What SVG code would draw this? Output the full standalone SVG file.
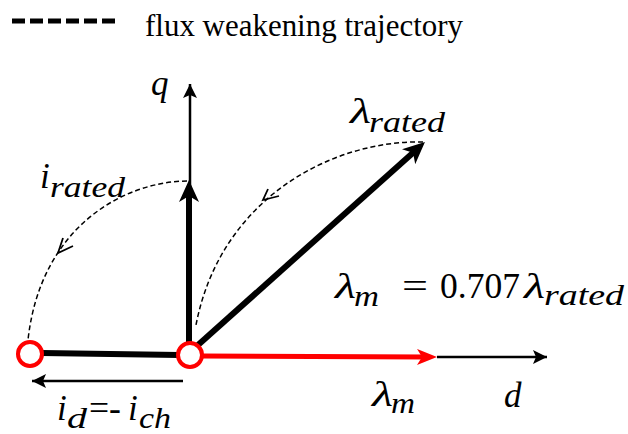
<svg xmlns="http://www.w3.org/2000/svg" width="628" height="434" viewBox="0 0 628 434">
<style>
.dash{fill:none;stroke:#000;stroke-width:1.5;stroke-dasharray:5 3}
.chev{fill:none;stroke:#000;stroke-width:1.8}
.node{fill:#fff;stroke:#f00;stroke-width:4}
</style>
<defs>
<marker id="ah" markerUnits="userSpaceOnUse" viewBox="0 0 14 14" refX="14" refY="7" markerWidth="14" markerHeight="14" orient="auto">
<path d="M0,0 L14,7 L0,14 L3,7 z" fill="#000"/>
</marker>
<marker id="ahT" markerUnits="userSpaceOnUse" viewBox="0 0 22 20" refX="12" refY="10" markerWidth="22" markerHeight="20" orient="auto">
<path d="M0,0 L22,10 L0,20 L6,10 z" fill="#000"/>
</marker>
<marker id="ahR" markerUnits="userSpaceOnUse" viewBox="0 0 20 16" refX="10" refY="8" markerWidth="20" markerHeight="16" orient="auto">
<path d="M0,0 L20,8 L0,16 L5,8 z" fill="#f00"/>
</marker>
</defs>

<g id="legend">
<line x1="12" y1="21" x2="118" y2="21" stroke="#000" stroke-width="5" stroke-dasharray="13 5"/>
<text x="145" y="36" font-family="Liberation Serif" font-size="31" textLength="318" lengthAdjust="spacingAndGlyphs">flux weakening trajectory</text>
</g>

<g id="connectors">
<line x1="190" y1="355" x2="190" y2="84" stroke="#000" stroke-width="2.5" marker-end="url(#ah)"/>
<line x1="437" y1="357" x2="547" y2="357" stroke="#000" stroke-width="2.5" marker-end="url(#ah)"/>
<line x1="183" y1="381" x2="32" y2="381" stroke="#000" stroke-width="2.5" marker-end="url(#ah)"/>
<line x1="189" y1="344" x2="189" y2="190" stroke="#000" stroke-width="6" marker-end="url(#ahT)"/>
<line x1="198" y1="345" x2="417.5" y2="148.7" stroke="#000" stroke-width="6" marker-end="url(#ahT)"/>
<line x1="42" y1="353" x2="179" y2="355" stroke="#000" stroke-width="6"/>
<line x1="202" y1="356" x2="427" y2="357" stroke="#f00" stroke-width="5" marker-end="url(#ahR)"/>
<path class="dash" d="M187,181 C120,182 40,230 28,340"/>
<polyline class="chev" points="63,238 58,253 73,246"/>
<path class="dash" d="M423,142 C330,140 220,200 196,325"/>
<polyline class="chev" points="268,189 263,200 279,196"/>
</g>

<g id="node-left"><circle class="node" cx="30" cy="354" r="12"/></g>
<g id="node-origin"><circle class="node" cx="190" cy="355" r="12"/></g>

<g id="label-q"><text font-family="Liberation Serif" font-style="italic" font-size="35" x="151" y="95">q</text></g>
<g id="label-irated">
<text font-family="Liberation Serif" font-style="italic" font-size="35" x="40" y="188">i</text>
<text font-family="Liberation Serif" font-style="italic" font-size="29" x="50" y="197" textLength="75" lengthAdjust="spacingAndGlyphs">rated</text>
</g>
<g id="label-lrated">
<text font-family="Liberation Serif" font-style="italic" font-size="36" x="350" y="123" textLength="21" lengthAdjust="spacingAndGlyphs">λ</text>
<text font-family="Liberation Serif" font-style="italic" font-size="29" x="369" y="132" textLength="76" lengthAdjust="spacingAndGlyphs">rated</text>
</g>
<g id="label-eq">
<text font-family="Liberation Serif" font-style="italic" font-size="36" x="335" y="298" textLength="21" lengthAdjust="spacingAndGlyphs">λ</text>
<text font-family="Liberation Serif" font-style="italic" font-size="29" x="354" y="306" textLength="25" lengthAdjust="spacingAndGlyphs">m</text>
<text font-family="Liberation Serif" font-size="35" x="402" y="298" textLength="26" lengthAdjust="spacingAndGlyphs">=</text>
<text font-family="Liberation Serif" font-size="35" x="440" y="298" textLength="80" lengthAdjust="spacingAndGlyphs">0.707</text>
<text font-family="Liberation Serif" font-style="italic" font-size="36" x="524" y="298" textLength="21" lengthAdjust="spacingAndGlyphs">λ</text>
<text font-family="Liberation Serif" font-style="italic" font-size="29" x="544" y="305" textLength="80" lengthAdjust="spacingAndGlyphs">rated</text>
</g>
<g id="label-lm">
<text font-family="Liberation Serif" font-style="italic" font-size="36" x="372" y="406" textLength="21" lengthAdjust="spacingAndGlyphs">λ</text>
<text font-family="Liberation Serif" font-style="italic" font-size="29" x="391" y="413" textLength="24" lengthAdjust="spacingAndGlyphs">m</text>
</g>
<g id="label-d"><text font-family="Liberation Serif" font-style="italic" font-size="35" x="504" y="407">d</text></g>
<g id="label-id">
<text font-family="Liberation Serif" font-style="italic" font-size="35" x="57" y="420">i</text>
<text font-family="Liberation Serif" font-style="italic" font-size="29" x="67" y="428" textLength="20" lengthAdjust="spacingAndGlyphs">d</text>
<text font-family="Liberation Serif" font-size="35" x="89" y="420" textLength="32" lengthAdjust="spacingAndGlyphs">=-</text>
<text font-family="Liberation Serif" font-style="italic" font-size="35" x="128" y="420">i</text>
<text font-family="Liberation Serif" font-style="italic" font-size="29" x="139" y="428" textLength="32" lengthAdjust="spacingAndGlyphs">ch</text>
</g>
</svg>
